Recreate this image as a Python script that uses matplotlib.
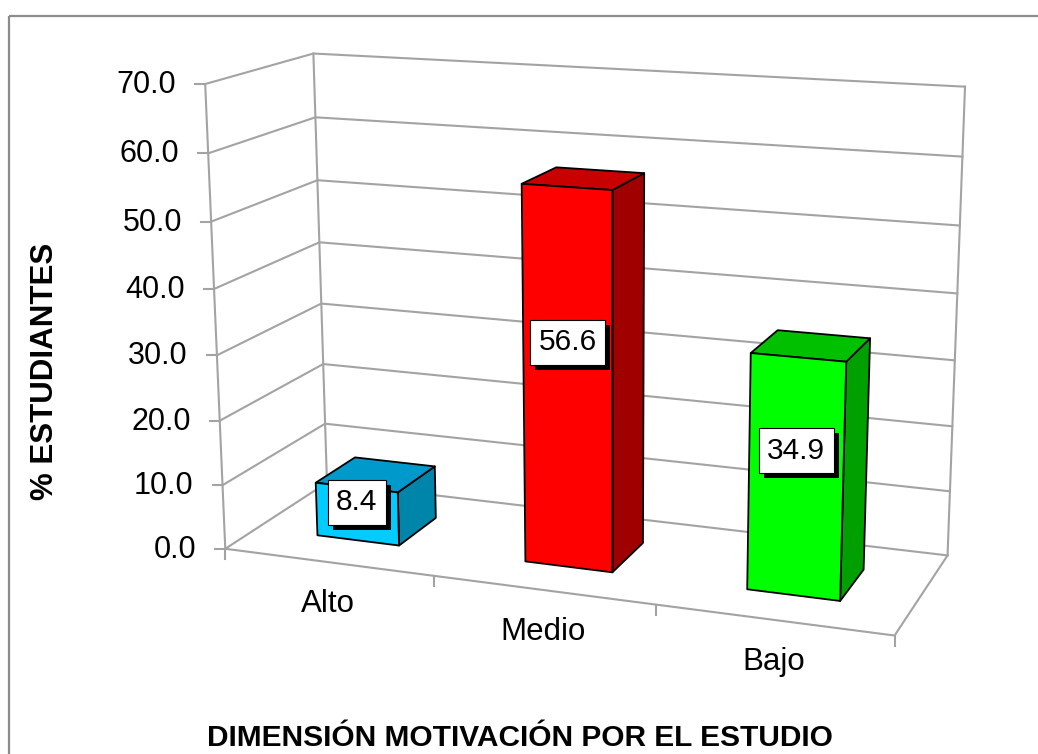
import numpy as np
import matplotlib
matplotlib.use("Agg")
import matplotlib.pyplot as plt
from matplotlib.patches import Polygon, Rectangle
import matplotlib.patheffects as pe

# ---------------- data ----------------
categories = ["Alto", "Medio", "Bajo"]
values = [8.4, 56.6, 34.9]
value_labels = ["8.4", "56.6", "34.9"]
y_ticks = [0, 10, 20, 30, 40, 50, 60, 70]
y_tick_labels = ["0.0", "10.0", "20.0", "30.0", "40.0", "50.0", "60.0", "70.0"]
title = "DIMENSIÓN MOTIVACIÓN POR EL ESTUDIO"
ylabel = "% ESTUDIANTES"

front_colors = ["#00CCFF", "#FF0000", "#00FF00"]
top_colors = ["#0099CC", "#C80000", "#00C000"]
side_colors = ["#0085AA", "#A00000", "#00A000"]

# ---------------- layout / camera ----------------
W, H = 1038, 754
ZMAX = 70.0
# frame anchors: (category coord, depth 0..1, value) -> pixel position of chart frame
frame_world = [
    (0, 0, 0), (0, 0, 70), (0, 1, 0), (0, 1, 70), (3, 1, 0), (3, 1, 70), (3, 0, 0),
    (1, 0, 0), (2, 0, 0), (0, 0, 10), (0, 0, 40), (0, 0, 50), (0, 0, 60),
    (0, 1, 40), (0, 1, 50), (0, 1, 60),
]
frame_px = [
    (225, 548), (205, 85), (327, 484), (314, 53), (947, 555), (965, 87), (896, 636),
    (434, 576), (655, 604), (223, 485), (214, 289), (211, 222), (208, 153),
    (320, 242), (317, 180), (315, 117),
]


def fit_camera(world, px):
    rows = []
    for (X, Y, Z), (u, v) in zip(world, px):
        Z = Z / ZMAX
        u, v = u / 1000.0, v / 1000.0
        rows.append([X, Y, Z, 1, 0, 0, 0, 0, -u * X, -u * Y, -u * Z, -u])
        rows.append([0, 0, 0, 0, X, Y, Z, 1, -v * X, -v * Y, -v * Z, -v])
    _, _, vt = np.linalg.svd(np.array(rows, float))
    return vt[-1].reshape(3, 4)


CAM = fit_camera(frame_world, frame_px)


def proj(x, d, z):
    h = CAM @ np.array([x, d, z / ZMAX, 1.0])
    return h[0] / h[2] * 1000.0, h[1] / h[2] * 1000.0


fig = plt.figure(figsize=(W / 100, H / 100), dpi=100)
ax = fig.add_axes([0, 0, 1, 1])
ax.set_xlim(0, W)
ax.set_ylim(H, 0)
ax.axis("off")

FONT = "Liberation Sans"
grid_c = "#a3a3a3"
glw = 1.5

# outer border
ax.add_patch(Rectangle((9, 16), W + 20, H + 20, fill=False, ec="#8c8c8c", lw=1.6))

ncat = len(categories)
# walls / gridlines
for t in y_ticks:
    pts = [proj(0, 0, t), proj(0, 1, t), proj(ncat, 1, t)]
    ax.plot([p[0] for p in pts], [p[1] for p in pts], color=grid_c, lw=glw, zorder=1)
for (x, d) in [(0, 0), (0, 1), (ncat, 1)]:
    a, b = proj(x, d, 0), proj(x, d, y_ticks[-1])
    ax.plot([a[0], b[0]], [a[1], b[1]], color=grid_c, lw=glw, zorder=1)
pts = [proj(0, 0, 0), proj(ncat, 0, 0), proj(ncat, 1, 0)]
ax.plot([p[0] for p in pts], [p[1] for p in pts], color=grid_c, lw=glw, zorder=1)

# value ticks + labels
for t, lab in zip(y_ticks, y_tick_labels):
    px_, py_ = proj(0, 0, t)
    ax.plot([px_ - 10, px_], [py_, py_], color=grid_c, lw=glw, zorder=1)
    ax.text(px_ - 29, py_ + 1, lab, ha="right", va="center", fontsize=22,
            family=FONT, color="black")

# category ticks + labels
for i in range(ncat + 1):
    px_, py_ = proj(i, 0, 0)
    ax.plot([px_, px_], [py_, py_ + 10], color=grid_c, lw=glw, zorder=1)
for i, cat in enumerate(categories):
    px_, py_ = proj(i + 0.5, 0, 0)
    ax.text(px_, py_ + 42, cat, ha="center", va="center", fontsize=22.5,
            family=FONT, color="black")

# bars
bw0, bw1 = 0.3, 0.7
d0, d1 = 0.3, 0.7
for i, (v, fc, tc, sc) in enumerate(zip(values, front_colors, top_colors, side_colors)):
    x0, x1 = i + bw0, i + bw1
    right = [proj(x1, d0, 0), proj(x1, d1, 0), proj(x1, d1, v), proj(x1, d0, v)]
    top = [proj(x0, d0, v), proj(x1, d0, v), proj(x1, d1, v), proj(x0, d1, v)]
    front = [proj(x0, d0, 0), proj(x1, d0, 0), proj(x1, d0, v), proj(x0, d0, v)]
    for poly, col in [(right, sc), (top, tc), (front, fc)]:
        ax.add_patch(Polygon(poly, closed=True, fc=col, ec="black", lw=1.3,
                             joinstyle="round", zorder=3))

# data labels
for i, (v, lab) in enumerate(zip(values, value_labels)):
    lx, ly = proj(i + 0.5, d0, v * 0.58 + 1.2)
    txt = ax.text(lx, ly, lab, ha="center", va="center", fontsize=21.5, family=FONT,
                  color="black", zorder=5,
                  bbox=dict(boxstyle="square,pad=0.28", fc="white", ec="black", lw=0.8))
    txt.get_bbox_patch().set_path_effects([
        pe.SimplePatchShadow(offset=(3.6, -3.6), shadow_rgbFace="black", alpha=1.0),
        pe.Normal()])

# axis titles
ax.text(45, 371, ylabel, rotation=90, ha="center", va="center", fontsize=22.5,
        fontweight="bold", family=FONT, color="black")
ax.text(520, 738, title, ha="center", va="center", fontsize=21.5,
        fontweight="bold", family=FONT, color="black")

fig.savefig("out.png", dpi=100)
